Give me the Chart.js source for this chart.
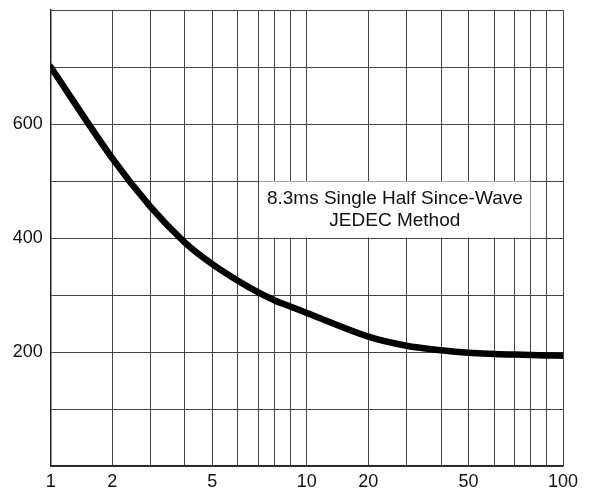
<!DOCTYPE html>
<html>
<head>
<meta charset="utf-8">
<script src="https://cdn.jsdelivr.net/npm/chart.js@4.4.1/dist/chart.umd.min.js"></script>
<style>
  html, body { margin: 0; padding: 0; background: #fff; }
  #wrap { width: 592px; height: 494px; }
</style>
</head>
<body>
<div id="wrap"><canvas id="surge"></canvas></div>
<script>
// --- chart data ---
const cycles = [1, 2, 3, 4, 5, 6, 7, 8, 9, 10, 20, 30, 40, 50, 60, 70, 80, 90, 100];
const surgeCurrent = [700, 540, 455, 392, 354, 325, 304, 290.5, 279.5, 268.5, 227, 211, 203, 198.5, 196.5, 195.5, 194.7, 194, 193.5];
const xGridValues = [1, 2, 3, 4, 5, 6, 7, 8, 9, 10, 20, 30, 40, 50, 60, 70, 80, 90, 100];
const xTickLabels = [1, 2, 5, 10, 20, 50, 100];
const yTickLabels = [200, 400, 600];
const noteLines = ['8.3ms Single Half Since-Wave', 'JEDEC Method'];

// where 1..10 sit inside one decade on the printed graph paper
const decadePos = [0, 0.24, 0.389, 0.524, 0.631, 0.731, 0.812, 0.875, 0.937, 1];
const decades = 2;

const warp = v => {
    const d = Math.floor(Math.log10(v) + 1e-9);
    const m = v / Math.pow(10, d);
    const i = Math.min(Math.floor(m + 1e-9), 9);
    const pos = decadePos[i - 1] + (decadePos[i] - decadePos[i - 1]) * (m - i);
    return (d + pos) / decades;
};

class PaperLogScale extends Chart.LinearScale {
    getPixelForValue(value) {
        if (value === null || isNaN(value)) return NaN;
        return this.getPixelForDecimal(warp(value));
    }
    getValueForPixel(pixel) {
        // rough inverse, only used for interaction
        const dec = this.getDecimalForPixel(pixel) * decades;
        return Math.pow(10, dec);
    }
}
PaperLogScale.id = 'paperLog';
PaperLogScale.defaults = {};
Chart.register(PaperLogScale);

// white label box that sits over the grid
const noteBox = {
    id: 'noteBox',
    beforeDatasetsDraw(chart) {
        const { ctx, scales: { x, y } } = chart;
        const left = x.getPixelForValue(7) + 0.5;
        const right = x.getPixelForValue(80) - 0.5;
        const top = y.getPixelForValue(500) + 0.5;
        const bottom = y.getPixelForValue(400) - 0.5;
        ctx.save();
        ctx.fillStyle = '#fff';
        ctx.fillRect(left, top, right - left, bottom - top);
        ctx.fillStyle = '#111';
        ctx.font = '19px "Liberation Sans", Arial, sans-serif';
        ctx.textAlign = 'center';
        ctx.textBaseline = 'middle';
        const cx = (left + right) / 2;
        const cy = (top + bottom) / 2;
        noteLines.forEach((line, i) => {
            ctx.fillText(line, cx, cy + (i - (noteLines.length - 1) / 2) * 22);
        });
        ctx.restore();
    }
};

const gridColor = '#444';
const font = { family: '"Liberation Sans", Arial, sans-serif', size: 18 };

new Chart(document.getElementById('surge'), {
    type: 'line',
    data: {
        datasets: [{
            data: cycles.map((c, i) => ({ x: c, y: surgeCurrent[i] })),
            borderColor: '#000',
            borderWidth: 6.5,
            borderCapStyle: 'round',
            borderJoinStyle: 'round',
            pointRadius: 0,
            fill: false,
            tension: 0.35
        }]
    },
    options: {
        responsive: true,
        maintainAspectRatio: false,
        animation: false,
        layout: { padding: { top: 10, right: 29, left: 0, bottom: 0 } },
        plugins: { legend: { display: false }, tooltip: { enabled: false } },
        scales: {
            x: {
                type: 'paperLog',
                min: 1,
                max: 100,
                afterBuildTicks: s => { s.ticks = xGridValues.map(v => ({ value: v })); },
                afterFit: s => { s.height = 28; },
                grid: { color: gridColor, lineWidth: 1, drawTicks: false },
                border: { color: '#222', width: 1.5 },
                ticks: {
                    autoSkip: false,
                    maxRotation: 0,
                    padding: 5,
                    color: '#111',
                    font: font,
                    callback: v => xTickLabels.includes(v) ? String(v) : ''
                }
            },
            y: {
                min: 0,
                max: 800,
                afterFit: s => { s.width = 50.7; s.paddingTop = 0; s.paddingBottom = 0; },
                grid: { color: gridColor, lineWidth: 1, drawTicks: false },
                border: { color: '#222', width: 1.5 },
                ticks: {
                    stepSize: 100,
                    padding: 8,
                    color: '#111',
                    font: font,
                    callback: v => yTickLabels.includes(v) ? String(v) : ''
                }
            }
        }
    },
    plugins: [noteBox]
});
</script>
</body>
</html>
